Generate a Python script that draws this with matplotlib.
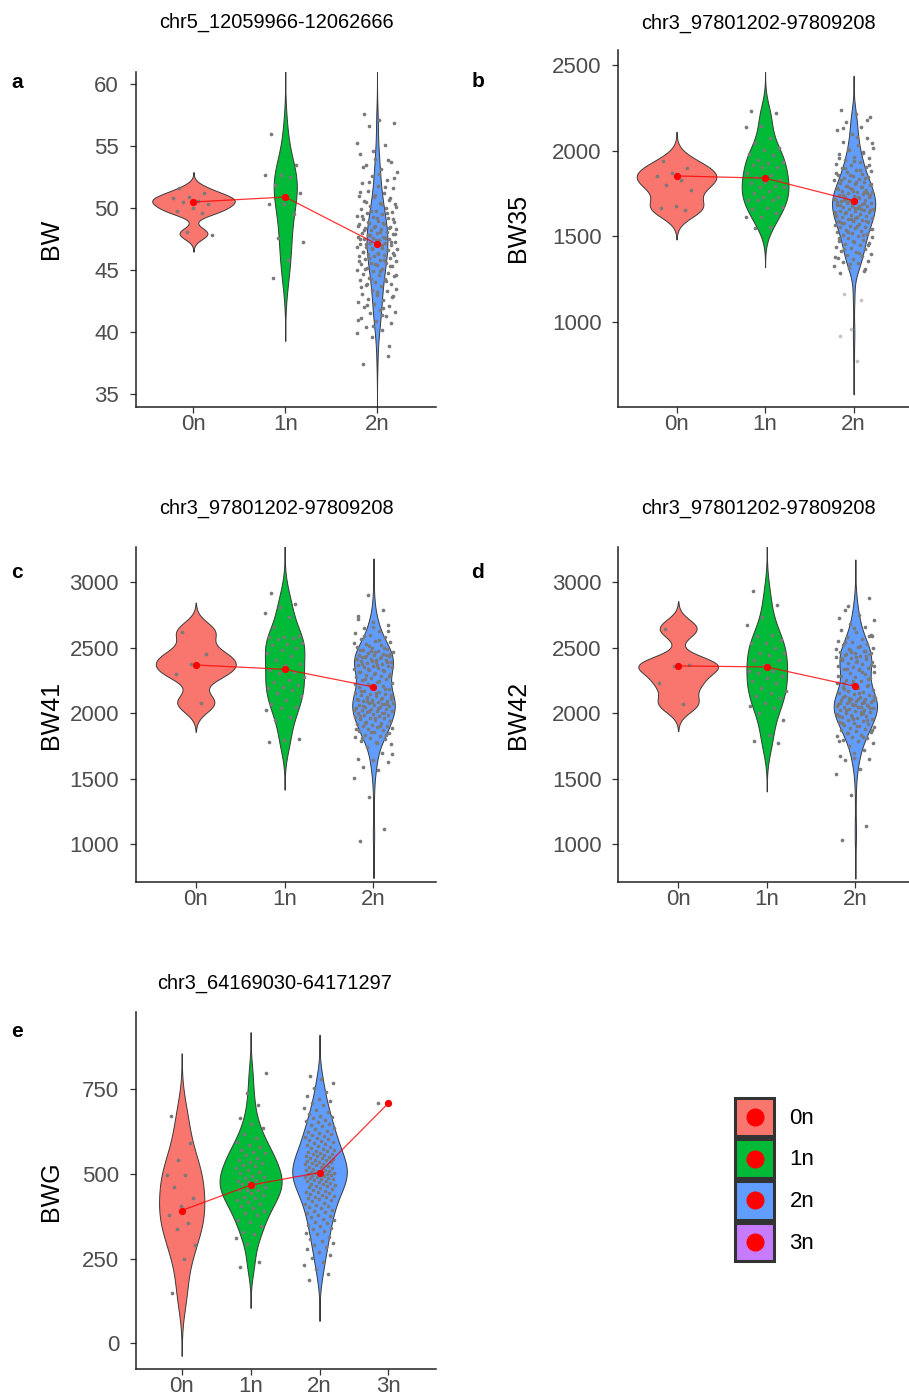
import numpy as np
import matplotlib
matplotlib.use('Agg')
import matplotlib.pyplot as plt
from matplotlib.patches import Patch
from matplotlib.lines import Line2D
from matplotlib.legend_handler import HandlerTuple, HandlerBase

# ---- data ----
cats3 = ['0n', '1n', '2n']
cats4 = ['0n', '1n', '2n', '3n']
group_colors = ['#F8766D', '#00BA38', '#619CFF', '#C77CFF']

# a: BW
a_0n = [51.6, 51.2, 50.9, 50.8, 50.6, 50.5, 50.3, 50.0, 49.8, 49.6, 48.1, 47.8]
a_1n = [56.0, 53.5, 52.7, 52.7, 52.5, 51.9, 51.2, 50.3, 50.3, 49.5, 47.6, 47.3, 45.8, 44.4]
a_2n = [37.4, 38.1, 39.6, 39.9, 40.2, 40.4, 40.7, 40.9, 41.1, 41.3, 41.5, 41.6, 41.8, 42.0,
        42.1, 42.3, 42.4, 42.6, 42.7, 42.9, 43.0, 43.1, 43.3, 43.4, 43.5, 43.7, 43.8, 43.9,
        44.0, 44.2, 44.3, 44.4, 44.5, 44.6, 44.7, 44.8, 44.9, 45.0, 45.1, 45.2, 45.3, 45.4,
        45.5, 45.6, 45.6, 45.7, 45.8, 45.9, 46.0, 46.1, 46.1, 46.2, 46.3, 46.4, 46.4, 46.5,
        46.6, 46.7, 46.7, 46.8, 46.9, 47.0, 47.0, 47.1, 47.2, 47.2, 47.3, 47.4, 47.5, 47.5,
        47.6, 47.7, 47.7, 47.8, 47.9, 48.0, 48.0, 48.1, 48.2, 48.3, 48.3, 48.4, 48.5, 48.6,
        48.7, 48.7, 48.8, 48.9, 49.0, 49.1, 49.2, 49.3, 49.4, 49.5, 49.6, 49.7, 49.8, 49.9,
        50.0, 50.2, 50.3, 50.4, 50.6, 50.7, 50.9, 51.0, 51.2, 51.4, 51.6, 51.8, 52.0, 52.3,
        52.6, 52.9, 53.2, 53.5, 53.7, 54.0, 54.4, 55.1, 56.6, 56.9, 57.1, 57.6,
        38.9, 40.5, 41.0, 41.9, 42.2, 42.8, 43.2, 43.6, 44.1, 44.3, 44.6, 44.9, 45.1, 45.3,
        45.5, 45.7, 45.8, 46.0, 46.2, 46.3, 46.5, 46.6, 46.8, 46.9, 47.0, 47.1, 47.3, 47.4,
        47.5, 47.6, 47.8, 47.9, 48.1, 48.2, 48.4, 48.5, 48.6, 48.8, 48.9, 49.1, 49.2, 49.4,
        49.6, 49.8, 50.1, 50.3, 50.5, 50.8, 51.1, 51.3, 51.7, 52.1, 52.4, 52.8, 53.3, 53.9,
        54.6, 55.3, 41.4, 43.9]
a_means = [50.5, 50.9, 47.1]

# b: BW35
b_0n = [1938, 1900, 1870, 1852, 1830, 1800, 1770, 1680, 1665, 1655]
b_1n = [2232, 2222, 2144, 2140, 2073, 2043, 2018, 2005, 1981, 1975, 1946, 1937, 1927, 1917,
        1907, 1907, 1868, 1859, 1849, 1830, 1820, 1814, 1795, 1791, 1791, 1768, 1752, 1733,
        1733, 1713, 1713, 1713, 1674, 1665, 1659, 1635, 1616, 1616, 1558, 1548]
b_2n = [1285, 1300, 1318, 1330, 1345, 1352, 1360, 1368, 1375, 1384, 1392, 1400, 1410, 1418,
        1425, 1433, 1440, 1448, 1455, 1462, 1470, 1476, 1482, 1490, 1496, 1502, 1508, 1514,
        1520, 1525, 1531, 1537, 1542, 1548, 1553, 1558, 1563, 1568, 1573, 1578, 1583, 1588,
        1593, 1597, 1602, 1606, 1611, 1615, 1620, 1624, 1628, 1633, 1637, 1641, 1646, 1650,
        1654, 1658, 1663, 1667, 1671, 1676, 1680, 1684, 1689, 1693, 1697, 1702, 1706, 1711,
        1715, 1720, 1724, 1729, 1733, 1738, 1743, 1748, 1752, 1757, 1762, 1767, 1772, 1777,
        1782, 1788, 1793, 1798, 1804, 1810, 1815, 1821, 1827, 1833, 1840, 1846, 1853, 1860,
        1867, 1874, 1882, 1890, 1898, 1906, 1915, 1924, 1934, 1944, 1955, 1966, 1978, 1990,
        2004, 2018, 2034, 2052, 2072, 2095, 2120, 2140, 2170, 2195, 2215, 2240,
        1310, 1338, 1380, 1405, 1430, 1452, 1473, 1493, 1511, 1528, 1545, 1560, 1576, 1591,
        1604, 1618, 1631, 1644, 1656, 1669, 1682, 1695, 1708, 1718, 1731, 1741, 1754, 1765,
        1775, 1786, 1796, 1807, 1818, 1830, 1843, 1857, 1870, 1886, 1902, 1919, 1938, 1960,
        1984, 2010, 2043, 2080, 2130, 2180, 1690, 1700, 1660, 1720, 1740, 1610, 1585, 1760,
        1780, 1640, 1675, 1710]
b_2n_faint = [1165, 1130, 959, 920, 777]
b_means = [1853, 1840, 1709]

# c: BW41
c_0n = [2623, 2450, 2374, 2298, 2081]
c_1n = [2919, 2835, 2814, 2763, 2738, 2662, 2590, 2585, 2580, 2572, 2565, 2534, 2529, 2522,
        2496, 2483, 2458, 2438, 2407, 2374, 2369, 2331, 2318, 2310, 2280, 2254, 2242, 2216,
        2203, 2191, 2178, 2152, 2132, 2102, 2071, 2051, 2038, 2025, 1969, 1949, 1801, 1796, 1783]
c_2n = [1025, 1117, 1364, 1504, 1567, 1593, 1631, 1643, 1648, 1700, 1740, 1765, 1780, 1792,
        1803, 1812, 1821, 1830, 1838, 1846, 1855, 1862, 1870, 1878, 1885, 1892, 1900, 1907,
        1914, 1921, 1928, 1935, 1942, 1948, 1955, 1961, 1967, 1973, 1979, 1985, 1990, 1996,
        2001, 2006, 2011, 2016, 2021, 2026, 2031, 2036, 2041, 2046, 2051, 2056, 2061, 2066,
        2071, 2076, 2081, 2086, 2091, 2096, 2101, 2107, 2113, 2119, 2125, 2131, 2137, 2144,
        2151, 2158, 2166, 2174, 2183, 2192, 2201, 2211, 2221, 2231, 2241, 2251, 2260, 2269,
        2278, 2286, 2294, 2302, 2310, 2317, 2324, 2331, 2338, 2345, 2352, 2358, 2364, 2370,
        2376, 2382, 2388, 2394, 2400, 2406, 2412, 2418, 2424, 2430, 2436, 2442, 2448, 2455,
        2462, 2469, 2476, 2484, 2492, 2501, 2510, 2520, 2531, 2542, 2554, 2567, 2581, 2596,
        2612, 2630, 2650, 2672, 2700, 2740, 2790, 2900,
        1690, 1775, 1808, 1834, 1858, 1882, 1903, 1924, 1945, 1964, 1982, 1999, 2014, 2029,
        2044, 2059, 2073, 2088, 2103, 2116, 2128, 2141, 2155, 2170, 2188, 2207, 2226, 2246,
        2265, 2282, 2298, 2314, 2328, 2342, 2356, 2368, 2380, 2392, 2403, 2415, 2427, 2439,
        2452, 2466, 2480, 2496, 2515, 2537, 2560, 2590, 2625, 2660, 2720, 2068, 2093, 2111,
        2410, 2433, 2446, 2472]
c_means = [2369, 2336, 2201]

# d: BW42
d_0n = [2647, 2372, 2362, 2229, 2074]
d_1n = [2931, 2830, 2733, 2677, 2601, 2588, 2563, 2537, 2537, 2499, 2461, 2461, 2448, 2410,
        2410, 2372, 2321, 2321, 2308, 2285, 2270, 2244, 2232, 2194, 2168, 2156, 2130, 2117,
        2079, 2053, 2041, 2003, 1952, 1837, 1786, 1774]
d_2n = [1031, 1143, 1374, 1540, 1576, 1641, 1653, 1660, 1672, 1720, 1752, 1770, 1785, 1797,
        1808, 1818, 1828, 1837, 1846, 1855, 1864, 1872, 1880, 1888, 1896, 1904, 1912, 1920,
        1928, 1936, 1944, 1951, 1958, 1965, 1972, 1979, 1986, 1992, 1998, 2004, 2010, 2016,
        2022, 2028, 2034, 2040, 2046, 2052, 2058, 2064, 2070, 2076, 2082, 2088, 2094, 2100,
        2106, 2112, 2118, 2125, 2132, 2139, 2146, 2154, 2162, 2171, 2180, 2190, 2200, 2211,
        2222, 2233, 2244, 2255, 2266, 2277, 2288, 2298, 2308, 2318, 2328, 2337, 2346, 2355,
        2364, 2373, 2381, 2389, 2397, 2405, 2413, 2421, 2429, 2437, 2445, 2453, 2461, 2470,
        2479, 2488, 2498, 2508, 2519, 2530, 2542, 2555, 2569, 2584, 2600, 2618, 2638, 2660,
        2685, 2715, 2750, 2791, 2881,
        1700, 1790, 1822, 1850, 1876, 1900, 1924, 1948, 1969, 1989, 2007, 2025, 2043, 2061,
        2079, 2097, 2115, 2135, 2158, 2185, 2216, 2249, 2282, 2313, 2342, 2369, 2393, 2417,
        2441, 2465, 2490, 2514, 2548, 2592, 2650, 2730, 2085, 2091, 2103, 2109, 2121, 2067,
        2073, 2055, 2049, 2450, 2458, 2432, 2425, 2474, 2484, 2360, 2340, 2230, 2260, 1960,
        1980, 2000, 2820, 2590]
d_means = [2362, 2354, 2206]

# e: BWG
e_0n = [671, 590, 540, 497, 497, 460, 428, 404, 379, 354, 337, 290, 249, 148]
e_1n = [226, 241, 292, 310, 322, 330, 345, 358, 364, 378, 384, 390, 399, 405, 412, 418, 423,
        428, 433, 438, 445, 453, 453, 453, 460, 465, 470, 473, 475, 480, 482, 488, 492, 495,
        502, 507, 512, 518, 522, 527, 532, 536, 541, 548, 555, 561, 566, 571, 580, 586, 595,
        606, 618, 635, 648, 664, 702, 738, 797]
e_2n = [187, 204, 218, 232, 241, 252, 261, 270, 278, 284, 290, 296, 302, 309, 315, 322, 327,
        331, 336, 340, 345, 349, 354, 358, 363, 367, 372, 377, 380, 384, 387, 391, 394, 398,
        401, 405, 408, 412, 415, 419, 422, 426, 428, 431, 433, 436, 438, 441, 443, 446, 448,
        451, 453, 456, 458, 461, 463, 465, 467, 469, 471, 473, 476, 478, 480, 482, 484, 485,
        487, 489, 490, 492, 493, 495, 496, 498, 499, 501, 502, 504, 505, 507, 508, 510, 511,
        513, 515, 517, 519, 521, 523, 526, 528, 530, 532, 534, 536, 538, 540, 542, 544, 546,
        548, 550, 552, 554, 556, 558, 560, 562, 564, 567, 569, 571, 574, 577, 580, 583, 586,
        589, 592, 595, 598, 601, 604, 607, 610, 613, 616, 619, 621, 624, 628, 632, 636, 640,
        644, 648, 652, 656, 660, 664, 668, 672, 678, 684, 690, 696, 702, 708, 714, 720, 731,
        743, 755, 767, 780, 790]
e_3n = [709]
e_means = [392, 467, 504, 709]

# ---- figure ----
plt.rcParams['font.family'] = ['Liberation Sans', 'DejaVu Sans']
W, H = 909, 1394
fig = plt.figure(figsize=(W / 100, H / 100), dpi=100)

# panel layout in pixels: axes box (left, top, right, bottom), title / letter baselines
panels = [
    dict(letter='a', title='chr5_12059966-12062666', ylabel='BW', cats=cats3,
         groups=[a_0n, a_1n, a_2n], faint=None, means=a_means,
         box=(135.7, 71.7, 435.7, 406.7), xlim=(0.37, 3.64), ylim=(33.97, 61.02),
         yticks=[35, 40, 45, 50, 55, 60], title_xy=(276, 27.5), letter_xy=(11.5, 87.7)),
    dict(letter='b', title='chr3_97801202-97809208', ylabel='BW35', cats=cats3,
         groups=[b_0n, b_1n, b_2n], faint=(2, b_2n_faint), means=b_means,
         box=(618.3, 50.0, 908.5, 406.7), xlim=(0.342, 3.62), ylim=(508, 2587),
         yticks=[1000, 1500, 2000, 2500], title_xy=(758, 28.3), letter_xy=(471.5, 87.3)),
    dict(letter='c', title='chr3_97801202-97809208', ylabel='BW41', cats=cats3,
         groups=[c_0n, c_1n, c_2n], faint=None, means=c_means,
         box=(135.7, 546.7, 435.7, 882.3), xlim=(0.324, 3.70), ylim=(710, 3272),
         yticks=[1000, 1500, 2000, 2500, 3000], title_xy=(276, 513.3), letter_xy=(11.5, 578.3)),
    dict(letter='d', title='chr3_97801202-97809208', ylabel='BW42', cats=cats3,
         groups=[d_0n, d_1n, d_2n], faint=None, means=d_means,
         box=(618.3, 546.7, 908.5, 882.3), xlim=(0.324, 3.60), ylim=(710, 3272),
         yticks=[1000, 1500, 2000, 2500, 3000], title_xy=(758, 513.3), letter_xy=(471, 578.3)),
    dict(letter='e', title='chr3_64169030-64171297', ylabel='BWG', cats=cats4,
         groups=[e_0n, e_1n, e_2n, e_3n], faint=None, means=e_means,
         box=(136.0, 1012.3, 436.0, 1369.3), xlim=(0.337, 4.69), ylim=(-76.7, 977),
         yticks=[0, 250, 500, 750], title_xy=(275, 988.3), letter_xy=(11.5, 1037.3)),
]


def nrd0(v):
    sd = np.std(v, ddof=1)
    q75, q25 = np.percentile(v, [75, 25])
    lo = min(sd, (q75 - q25) / 1.34)
    if lo <= 0:
        lo = sd if sd > 0 else 1.0
    return 0.9 * lo * len(v) ** -0.2


def density(v):
    bw = nrd0(v)
    grid = np.linspace(v.min() - 3 * bw, v.max() + 3 * bw, 512)
    z = (grid[:, None] - v[None, :]) / bw
    d = np.exp(-0.5 * z ** 2).sum(axis=1) / (len(v) * bw * np.sqrt(2 * np.pi))
    return grid, d


def jitter(n, width=0.22):
    return ((np.arange(n) * 0.6180339887 + 0.15) % 1.0 - 0.5) * 2 * width


for p in panels:
    l, t, r, b = p['box']
    ax = fig.add_axes([l / W, 1 - b / H, (r - l) / W, (b - t) / H])
    xs = np.arange(1, len(p['cats']) + 1)

    # violins (ggplot style: untrimmed, scaled by area)
    data = []
    for i, g in enumerate(p['groups']):
        v = np.asarray(g, dtype=float)
        if p['faint'] is not None and p['faint'][0] == i:
            v = np.concatenate([v, p['faint'][1]])
        data.append(v)
    dens = [density(v) if len(v) > 1 else None for v in data]
    dmax = max(d[1].max() for d in dens if d is not None)
    for i, dd in enumerate(dens):
        if dd is None:
            continue
        grid, d = dd
        half = d / dmax * 0.45
        ax.fill_betweenx(grid, xs[i] - half, xs[i] + half, facecolor=group_colors[i],
                         edgecolor='#3a3a3a', linewidth=0.7, zorder=2)

    # jittered points
    for i, g in enumerate(p['groups']):
        v = np.asarray(g, dtype=float)
        ax.scatter(xs[i] + jitter(len(v)), v, s=7, color='#7a7a7a', linewidths=0, zorder=3)
    if p['faint'] is not None:
        i, fv = p['faint']
        ax.scatter(xs[i] + jitter(len(fv), 0.15), fv, s=7, color='#c4c4c4',
                   linewidths=0, zorder=3)

    # group means
    ax.plot(xs, p['means'], color='red', lw=0.9, alpha=0.8, zorder=4)
    ax.plot(xs, p['means'], 'o', color='red', ms=4.2, zorder=5)

    ax.set_xlim(*p['xlim'])
    ax.set_ylim(*p['ylim'])
    ax.set_xticks(xs)
    ax.set_xticklabels(p['cats'])
    ax.set_yticks(p['yticks'])
    for s in ['top', 'right']:
        ax.spines[s].set_visible(False)
    for s in ['left', 'bottom']:
        ax.spines[s].set_linewidth(1.1)
        ax.spines[s].set_color('#222222')
    ax.tick_params(axis='both', labelsize=16, labelcolor='#4d4d4d', color='#333333',
                   length=4.5, width=0.9)
    ax.tick_params(axis='y', pad=7.5)
    ax.tick_params(axis='x', pad=0.5)

    tx, ty = p['title_xy']
    fig.text(tx / W, 1 - ty / H, p['title'], ha='center', va='baseline',
             fontsize=14.4, color='black')
    lx, ly = p['letter_xy']
    fig.text(lx / W, 1 - ly / H, p['letter'], ha='left', va='baseline',
             fontsize=15, fontweight='bold')
    yx = 51.3 if l < 300 else 518.3
    fig.text(yx / W, 1 - ((t + b) / 2) / H, p['ylabel'], rotation=90,
             ha='center', va='center', fontsize=18)


class CenteredDot(HandlerBase):
    # red mean dot centred in the legend key square
    def create_artists(self, legend, orig_handle, xdescent, ydescent, width, height,
                       fontsize, trans):
        dot = Line2D([width / 2 - xdescent], [height / 2 - ydescent], marker='o',
                     color='red', ms=12, linestyle='none', transform=trans)
        return [dot]


# legend for the copy-number groups
handles = [(Patch(facecolor=c, edgecolor='#333333', linewidth=2.2),
            Line2D([], [], marker='o', color='red', linestyle='none'))
           for c in group_colors]
fig.legend(handles, cats4, handler_map={tuple: HandlerTuple(ndivide=1), Line2D: CenteredDot()},
           loc='upper left', bbox_to_anchor=(735 / W, 1 - 1097.6 / H), frameon=False,
           fontsize=16, handlelength=1.755, handleheight=2.29, labelspacing=0.144,
           handletextpad=0.7, borderpad=0, borderaxespad=0)

fig.savefig('out.png', dpi=100)
